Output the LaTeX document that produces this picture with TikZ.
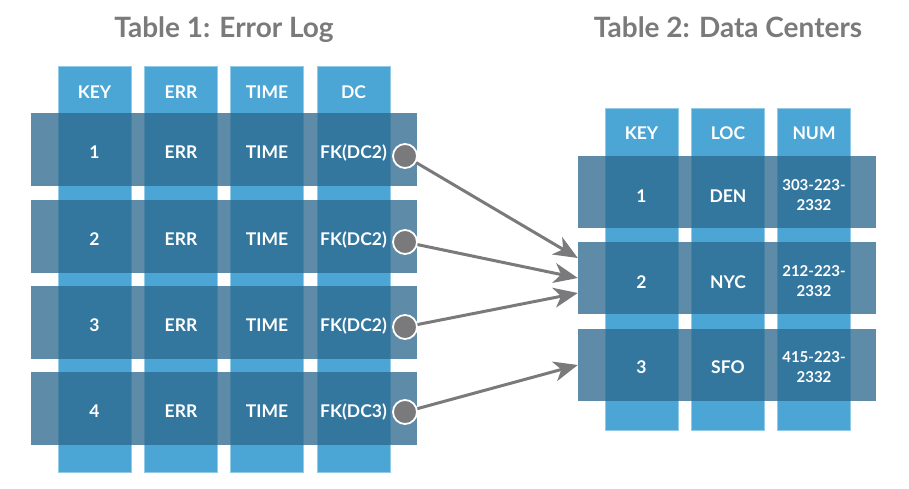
\documentclass[tikz,border=0pt]{standalone}
\usepackage{fontspec}
\setmainfont{Lato}
\usetikzlibrary{arrows.meta,calc}
\definecolor{colblue}{HTML}{4BA6D6}
\definecolor{rowblue}{RGB}{46,105,142}
\definecolor{titlegray}{HTML}{7A7A7A}
\definecolor{arrgray}{HTML}{7A7A7C}
\tikzset{
  colbox/.style={fill=colblue,draw=colblue!60!white,line width=0.6pt,minimum width=73pt,inner sep=0pt,anchor=north},
  rowbox/.style={fill=rowblue,fill opacity=0.77,minimum height=73pt,inner sep=0pt},
  celltext/.style={text=white,font=\fontsize{17.5}{20}\selectfont\bfseries,inner sep=0pt,align=center,text height=12.6pt,text depth=0pt},
  numtext/.style={text=white,font=\fontsize{15}{20}\selectfont\bfseries,inner sep=0pt,align=center},
  title/.style={text=titlegray,font=\fontsize{28}{32}\selectfont\bfseries,inner sep=0pt,anchor=base},
  fkdot/.style={circle,fill=arrgray,draw=white,line width=1.8pt,minimum size=24pt,inner sep=0pt},
  fklink/.style={draw=arrgray,line width=3pt,-{Stealth[length=24pt,width=20pt,inset=7pt]}}
}
\begin{document}
\begin{tikzpicture}[x=1pt,y=-1pt]
\useasboundingbox (0,0) rectangle (909,489);
% titles
\node[title] (t1) at (224,38) {Table 1: Error Log};
\node[title] (t2) at (728,38) {Table 2: Data Centers};
% left columns
\foreach \x/\n in {94.5/a,181/b,267/c,353.5/d}{
  \node[colbox,minimum height=406pt] (lc\n) at (\x,66) {};
}
% left rows
\foreach \y/\n in {149.5/1,236/2,322.5/3,408.5/4}{
  \node[rowbox,minimum width=386pt] (r\n) at (224,\y) {};
}
% right columns
\foreach \x/\n in {641.5/a,728/b,814/c}{
  \node[colbox,minimum height=322pt] (rc\n) at (\x,108) {};
}
% right rows
\foreach \y/\n in {192/1,278/2,365/3}{
  \node[rowbox,minimum width=298pt,minimum height=72pt] (s\n) at (727,\y) {};
}
% left headers
\node[celltext] (h1) at (94.5,92) {KEY};
\node[celltext] (h2) at (181,92) {ERR};
\node[celltext] (h3) at (267,92) {TIME};
\node[celltext] (h4) at (353.5,92) {DC};
% left cells
\foreach \y/\k/\d in {152.5/1/2,239/2/2,325/3/2,411/4/3}{
  \node[celltext] (k\k) at (94.5,\y) {\k};
  \node[celltext] (e\k) at (181,\y) {ERR};
  \node[celltext] (m\k) at (267,\y) {TIME};
  \node[celltext] (f\k) at (353.5,\y) {FK(DC\d)};
}
% right headers
\node[celltext] (g1) at (641.5,133) {KEY};
\node[celltext] (g2) at (728,133) {LOC};
\node[celltext] (g3) at (814,133) {NUM};
% right cells
\node[celltext] (q1) at (641.5,196) {1};
\node[celltext] (l1) at (728,196) {DEN};
\node[numtext] (n1) at (814,195) {303-223-\\2332};
\node[celltext] (q2) at (641.5,282) {2};
\node[celltext] (l2) at (728,282) {NYC};
\node[numtext] (n2) at (814,281) {212-223-\\2332};
\node[celltext] (q3) at (641.5,367) {3};
\node[celltext] (l3) at (728,367) {SFO};
\node[numtext] (n3) at (814,367) {415-223-\\2332};
% link anchors
\coordinate (p1) at (405,156);
\coordinate (p2) at (405,242);
\coordinate (p3) at (405,327);
\coordinate (p4) at (405,412);
% arrows
\draw[fklink] (p1) -- ([yshift=20pt]s2.west);
\draw[fklink] (p2) -- (s2.west);
\draw[fklink] (p3) -- ([yshift=-15pt]s2.west);
\draw[fklink] (p4) -- (s3.west);
% dots
\foreach \n in {1,2,3,4}{
  \node[fkdot] (c\n) at (p\n) {};
}
\end{tikzpicture}
\end{document}
